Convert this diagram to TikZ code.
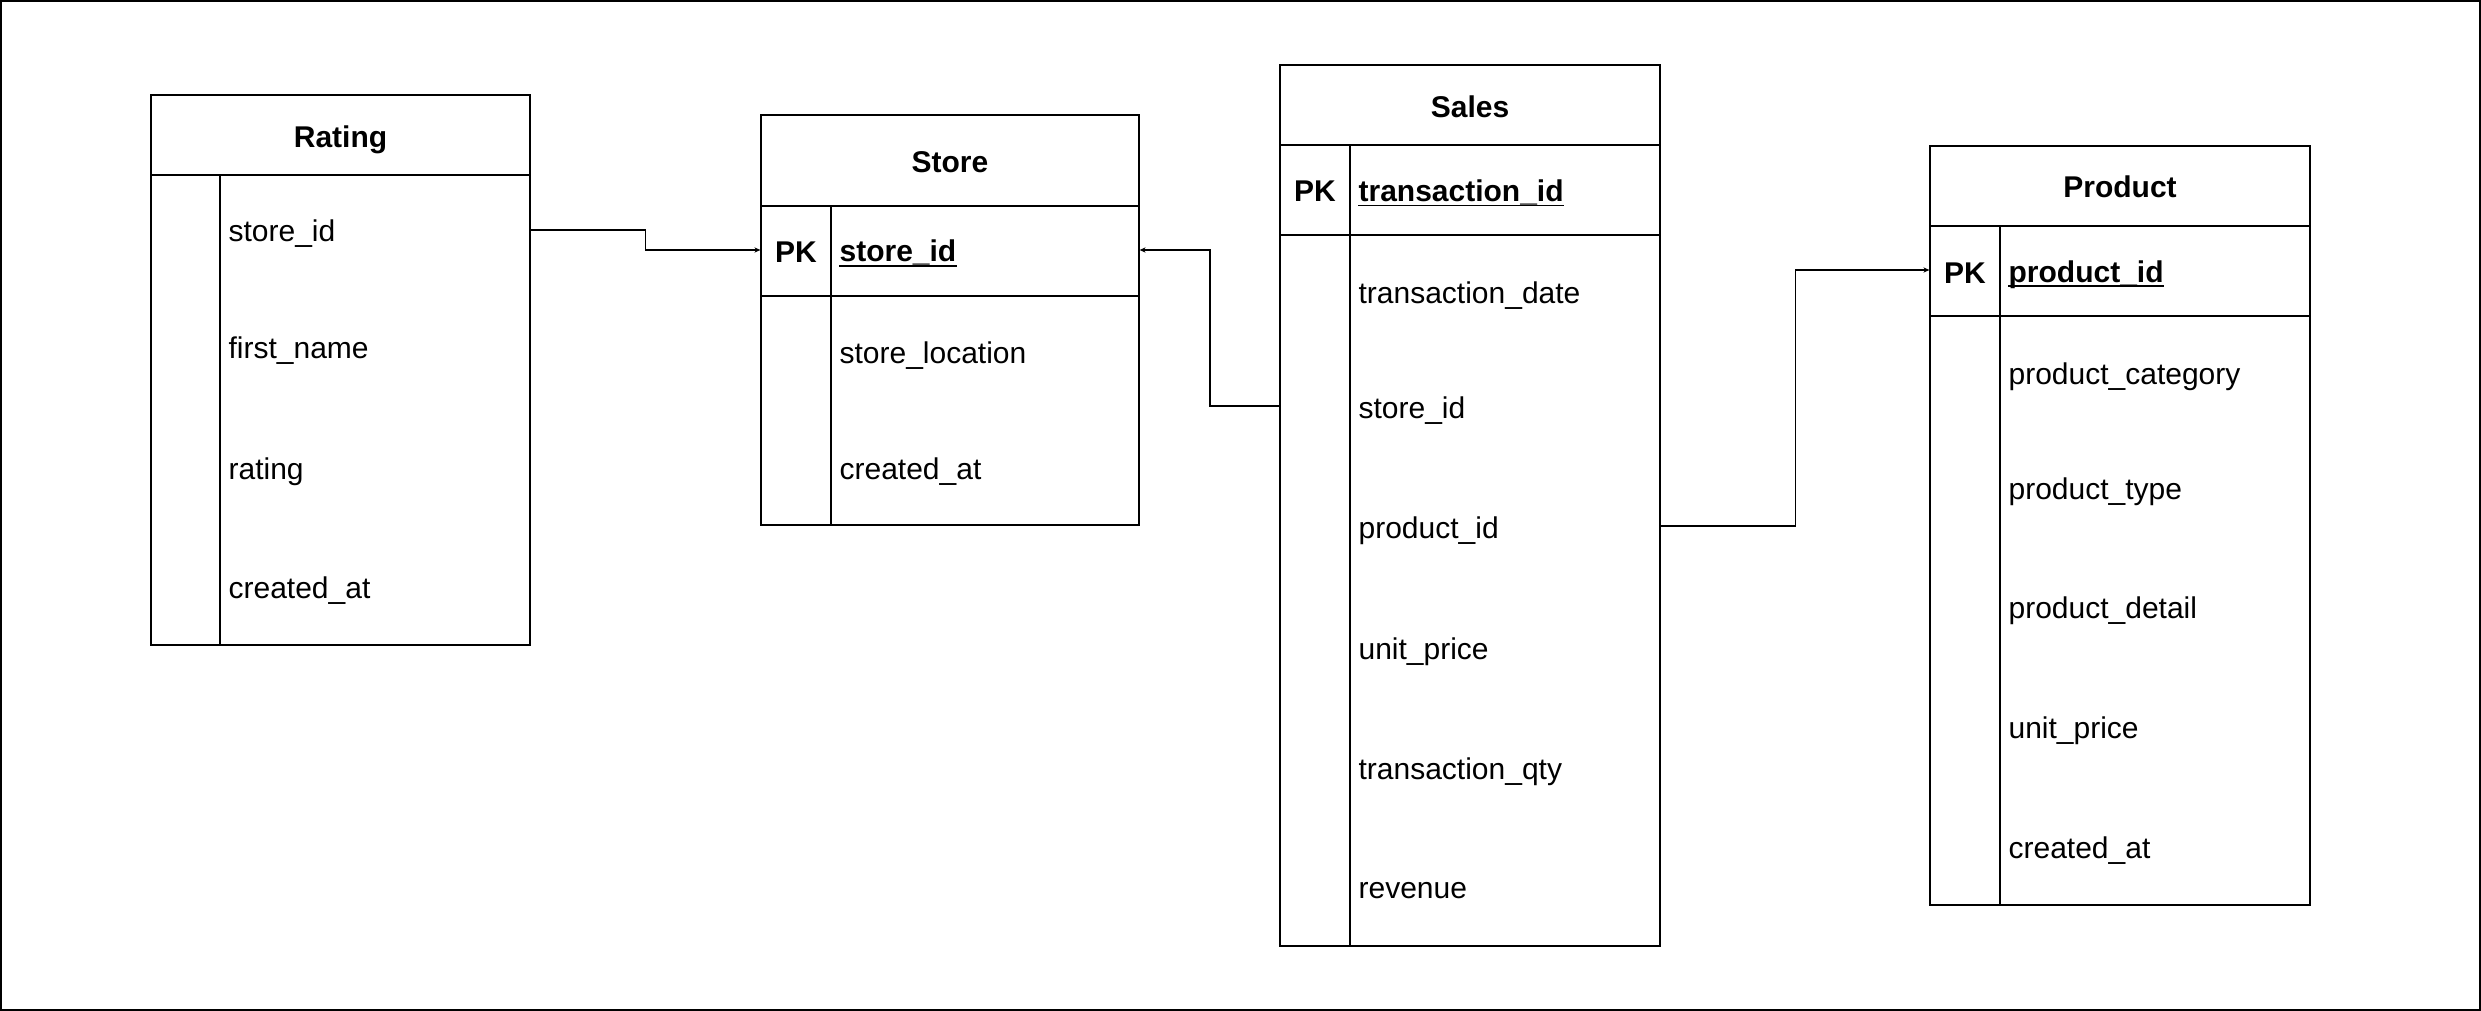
\documentclass[tikz,border=0pt]{standalone}
\usepackage{fontspec}
\setmainfont{Liberation Sans}
\usetikzlibrary{fit,arrows.meta}
\begin{document}
\begin{tikzpicture}[x=0.5pt,y=-0.5pt, line width=0.6pt,
  tbl/.style={draw, inner sep=0pt},
  ttl/.style={font=\fontsize{15}{18}\selectfont\bfseries, inner sep=0pt, text height=12pt, text depth=0pt},
  fld/.style={font=\fontsize{15}{18}\selectfont, anchor=west, inner sep=0pt, text height=12pt, text depth=0pt},
  pk/.style={fld, anchor=center, font=\fontsize{15}{18}\selectfont\bfseries},
  pkf/.style={fld, font=\fontsize{15}{18}\selectfont\bfseries},
  uline/.style={line width=0.9pt},
  conn/.style={-{Stealth[length=3pt,width=2.6pt]}, line width=0.6pt}]
\useasboundingbox (0,0) rectangle (2481,1011);
\draw (1,1) rectangle (2480,1010);

% Rating
\node[tbl, fit={(151,95) (530,645)}] (rating) {};
\draw (151,175) -- (530,175);
\draw (220,175) -- (220,645);
\node[ttl] (ratingT) at (340.5,136) {Rating};
\node[fld] (r1) at (228,230) {store\_id};
\node[fld] (r2) at (228,346) {first\_name};
\node[fld] (r3) at (228,467) {rating};
\node[fld] (r4) at (228,586) {created\_at};

% Store
\node[tbl, fit={(761,115) (1139,525)}] (store) {};
\draw (761,206) -- (1139,206);
\draw (761,296) -- (1139,296);
\draw (831,206) -- (831,525);
\node[ttl] (storeT) at (950,161) {Store};
\node[pk] (storePK) at (796,251) {PK};
\node[pkf] (s1) at (839,250) {store\_id};
\draw[uline] ([yshift=-1.5pt]s1.south west) -- ([yshift=-1.5pt]s1.south east);
\node[fld] (s2) at (839,351) {store\_location};
\node[fld] (s3) at (839,467) {created\_at};

% Sales
\node[tbl, fit={(1280,65) (1660,946)}] (sales) {};
\draw (1280,145) -- (1660,145);
\draw (1280,235) -- (1660,235);
\draw (1350,145) -- (1350,946);
\node[ttl] (salesT) at (1470,106) {Sales};
\node[pk] (salesPK) at (1315,190) {PK};
\node[pkf] (t0) at (1358,190) {transaction\_id};
\draw[uline] ([yshift=-1.5pt]t0.south west) -- ([yshift=-1.5pt]t0.south east);
\node[fld] (t1) at (1358,291) {transaction\_date};
\node[fld] (t2) at (1358,406) {store\_id};
\node[fld] (t3) at (1358,526) {product\_id};
\node[fld] (t4) at (1358,647) {unit\_price};
\node[fld] (t5) at (1358,767) {transaction\_qty};
\node[fld] (t6) at (1358,886) {revenue};

% Product
\node[tbl, fit={(1930,146) (2310,905)}] (product) {};
\draw (1930,226) -- (2310,226);
\draw (1930,316) -- (2310,316);
\draw (2000,226) -- (2000,905);
\node[ttl] (productT) at (2120,186) {Product};
\node[pk] (productPK) at (1965,271) {PK};
\node[pkf] (p0) at (2008,270) {product\_id};
\draw[uline] ([yshift=-1.5pt]p0.south west) -- ([yshift=-1.5pt]p0.south east);
\node[fld] (p1) at (2008,372) {product\_category};
\node[fld] (p2) at (2008,487) {product\_type};
\node[fld] (p3) at (2008,606) {product\_detail};
\node[fld] (p4) at (2008,726) {unit\_price};
\node[fld] (p5) at (2008,846) {created\_at};

% Connectors
\draw[conn] (rating.east |- r1.center) -- ++(115,0) |- (store.west |- s1.center);
\draw[conn] (sales.west |- t2.center) -- ++(-69.5,0) |- (store.east |- s1.center);
\draw[conn] (sales.east |- t3.center) -- ++(135,0) |- (product.west |- p0.center);
\end{tikzpicture}
\end{document}
